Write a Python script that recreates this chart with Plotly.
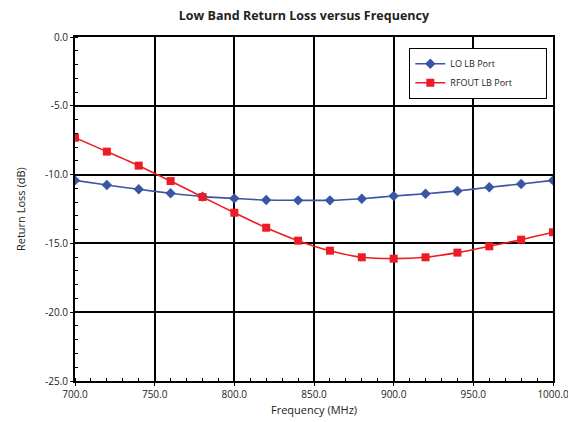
import plotly.graph_objects as go

freq = [700, 720, 740, 760, 780, 800, 820, 840, 860, 880, 900, 920, 940, 960, 980, 1000]
lo_lb = [-10.42, -10.76, -11.07, -11.36, -11.60, -11.73, -11.85, -11.87, -11.87, -11.75,
         -11.56, -11.39, -11.19, -10.92, -10.68, -10.42]
rfout_lb = [-7.32, -8.33, -9.35, -10.47, -11.63, -12.77, -13.86, -14.80, -15.53, -16.01,
            -16.11, -16.01, -15.67, -15.21, -14.73, -14.19]

x_ticks = [700, 750, 800, 850, 900, 950, 1000]
y_ticks = [0, -5, -10, -15, -20, -25]

font = "Open Sans"
pad = "\u00a0" * 12

fig = go.Figure()
fig.add_trace(go.Scatter(
    x=freq, y=lo_lb, name="LO LB Port", mode="lines+markers",
    line=dict(color="#3A55A4", width=1.6, shape="spline", smoothing=0.6),
    marker=dict(symbol="diamond", size=8, color="#3A55A4"),
))
fig.add_trace(go.Scatter(
    x=freq, y=rfout_lb, name="RFOUT LB Port" + pad, mode="lines+markers",
    line=dict(color="#ED1C24", width=1.6, shape="spline", smoothing=0.6),
    marker=dict(symbol="square", size=8, color="#ED1C24"),
))

axis_common = dict(
    showline=True, linecolor="black", linewidth=2, mirror=True,
    showgrid=True, gridcolor="black", gridwidth=1.8,
    zeroline=False, ticks="outside", ticklen=3, tickcolor="black",
    tickfont=dict(family=font, size=10, color="#222"),
    automargin=False,
)

fig.update_xaxes(
    range=[700, 1000], tickvals=x_ticks, ticktext=[f"{v:.1f}" for v in x_ticks],
    minor=dict(dtick=10, ticks="inside", ticklen=3, tickcolor="black", showgrid=False),
    **axis_common,
)
fig.update_yaxes(
    range=[-25, 0], tickvals=y_ticks, ticktext=[f"{v:.1f}" for v in y_ticks],
    minor=dict(dtick=1, ticks="inside", ticklen=3, tickcolor="black", showgrid=False),
    **axis_common,
)

fig.add_annotation(text="Frequency (MHz)", xref="paper", yref="paper", x=0.5, y=-0.084,
                   yanchor="middle", showarrow=False,
                   font=dict(family=font, size=11, color="#222"))
fig.add_annotation(text="Return Loss (dB)", xref="paper", yref="paper", x=-0.115, y=0.5,
                   xanchor="center", textangle=-90, showarrow=False,
                   font=dict(family=font, size=11, color="#222"))

fig.update_layout(
    width=568, height=414,
    margin=dict(l=67, r=23, t=29, b=41),
    paper_bgcolor="white", plot_bgcolor="white",
    title=dict(text="<b>Low Band Return Loss versus Frequency</b>", x=0.521, xanchor="center",
               y=0.981, yanchor="middle", font=dict(family=font, size=12.5, color="#222")),
    legend=dict(x=0.699, y=0.968, xanchor="left", yanchor="top",
                bgcolor="white", bordercolor="black", borderwidth=1.2,
                font=dict(family=font, size=9, color="#222"),
                tracegroupgap=0, itemwidth=30),
    showlegend=True,
)

fig.write_html("out.html")
